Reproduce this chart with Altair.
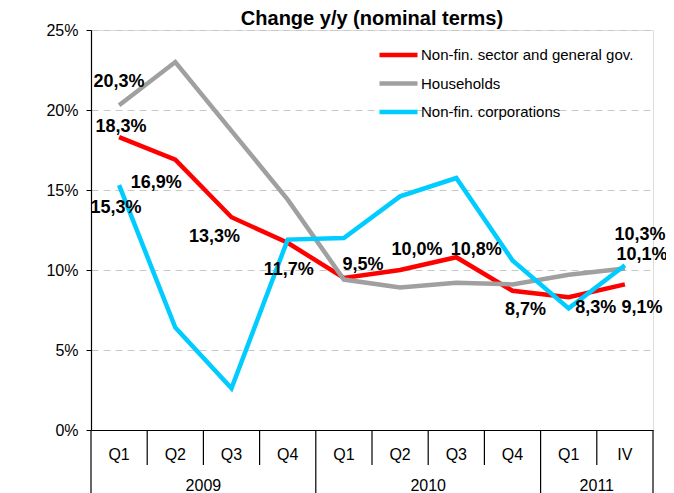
import altair as alt
import pandas as pd

# ---- data ----
quarters = ["Q1", "Q2", "Q3", "Q4", "Q1", "Q2", "Q3", "Q4", "Q1", "IV"]
years = ["2009", "2010", "2011"]
year_quarter_counts = [4, 4, 2]
series_names = ["Non-fin. sector and general gov.", "Households", "Non-fin. corporations"]
series_colors = ["#FF0000", "#A0A0A0", "#00CCFF"]
nonfin_gov = [18.3, 16.9, 13.3, 11.7, 9.5, 10.0, 10.8, 8.7, 8.3, 9.1]
households = [20.3, 23.0, 18.7, 14.4, 9.4, 8.9, 9.2, 9.1, 9.7, 10.1]
corporations = [15.3, 6.4, 2.6, 11.9, 12.0, 14.6, 15.75, 10.6, 7.6, 10.3]
y_ticks = [0, 5, 10, 15, 20, 25]

# labelled points: (series index, point index)
labelled = [(0, i) for i in range(10)] + [(1, 0), (1, 9), (2, 0), (2, 9)]
# label offsets in pixels (style)
label_offsets = {
    (0, 0): (2, -10), (0, 1): (-19, 23), (0, 2): (-17, 20), (0, 3): (1, 27),
    (0, 4): (19, -13), (0, 5): (17, -20), (0, 6): (20, -7), (0, 7): (13, 19),
    (0, 8): (27, 11), (0, 9): (17, 24),
    (1, 0): (0, -23), (1, 9): (17, -13),
    (2, 0): (-3, 23), (2, 9): (15, -30),
}

FONT = "Liberation Sans"
W, H = 562, 400

series_values = [nonfin_gov, households, corporations]
rows = []
for s, vals in zip(series_names, series_values):
    for i, v in enumerate(vals):
        rows.append({"series": s, "pos": i + 0.5, "value": v})
df = pd.DataFrame(rows)

x_scale = alt.Scale(domain=[0, len(quarters)], nice=False, zero=False)
y_scale = alt.Scale(domain=[0, 25], nice=False)

lines = alt.Chart(df).mark_line(strokeWidth=4.5, strokeJoin="miter").encode(
    x=alt.X("pos:Q", scale=x_scale,
            axis=alt.Axis(title=None, labels=False, ticks=False, grid=False,
                          domain=True, domainColor="#000000", domainWidth=1.2)),
    y=alt.Y("value:Q", scale=y_scale,
            axis=alt.Axis(title=None, values=y_ticks, labelExpr="datum.value + '%'",
                          labelFont=FONT, labelFontSize=16, labelColor="#000000",
                          labelPadding=8, tickSize=5, tickColor="#000000",
                          domainColor="#000000", domainWidth=1.2,
                          grid=True, gridColor="#C8C8C8", gridDash=[7, 5], gridWidth=1)),
    color=alt.Color("series:N", sort=series_names,
                    scale=alt.Scale(domain=series_names, range=series_colors),
                    legend=alt.Legend(title=None, orient="none", legendX=286, legendY=17,
                                      symbolType="stroke", symbolSize=1444,
                                      symbolStrokeWidth=4.5, labelFont=FONT,
                                      labelFontSize=15, labelColor="#000000",
                                      labelLimit=400, clipHeight=16,
                                      labelOffset=1, rowPadding=12.5, padding=0)),
    detail="series:N",
)

# data labels
label_layers = []
for (si, pi) in labelled:
    v = series_values[si][pi]
    txt = f"{v:.1f}".replace(".", ",") + "%"
    dx, dy = label_offsets[(si, pi)]
    ldf = pd.DataFrame([{"pos": pi + 0.5, "value": v, "text": txt}])
    label_layers.append(
        alt.Chart(ldf).mark_text(font=FONT, fontSize=18, fontWeight="bold",
                                 color="#000000", dx=dx, dy=dy, baseline="middle",
                                 align="center").encode(
            x=alt.X("pos:Q", scale=x_scale), y=alt.Y("value:Q", scale=y_scale), text="text:N")
    )

# category axis: separators and labels
year_bounds = [0]
for c in year_quarter_counts:
    year_bounds.append(year_bounds[-1] + c)
sep_rows = []
for b in range(len(quarters) + 1):
    sep_rows.append({"b": b, "long": b in year_bounds})
sep_df = pd.DataFrame(sep_rows)
short_seps = alt.Chart(sep_df[~sep_df["long"]]).mark_rule(color="#000000", strokeWidth=1.2).encode(
    x=alt.X("b:Q", scale=x_scale), y=alt.value(H), y2=alt.value(H + 35))
long_seps = alt.Chart(sep_df[sep_df["long"]]).mark_rule(color="#000000", strokeWidth=1.2).encode(
    x=alt.X("b:Q", scale=x_scale), y=alt.value(H), y2=alt.value(H + 90))

q_df = pd.DataFrame({"pos": [i + 0.5 for i in range(len(quarters))], "q": quarters})
q_labels = alt.Chart(q_df).mark_text(font=FONT, fontSize=16, color="#000000",
                                     baseline="middle").encode(
    x=alt.X("pos:Q", scale=x_scale), y=alt.value(H + 25), text="q:N")

y_df = pd.DataFrame({"pos": [(year_bounds[i] + year_bounds[i + 1]) / 2 for i in range(len(years))],
                     "y": years})
y_labels = alt.Chart(y_df).mark_text(font=FONT, fontSize=16, color="#000000",
                                     baseline="middle").encode(
    x=alt.X("pos:Q", scale=x_scale), y=alt.value(H + 56), text="y:N")

chart = alt.layer(
    lines, *label_layers, short_seps, long_seps, q_labels, y_labels
).properties(
    width=W, height=H,
    title=alt.TitleParams("Change y/y (nominal terms)", font=FONT, fontSize=20,
                          fontWeight="bold", color="#000000", anchor="middle",
                          offset=6, dy=13),
    autosize=alt.AutoSizeParams(type="none"),
    padding={"left": 83, "top": 22, "right": 13, "bottom": 80},
).configure_view(stroke=None).configure(background="#FFFFFF")

chart.save("out.html", embed_options={"renderer": "svg", "actions": False})
